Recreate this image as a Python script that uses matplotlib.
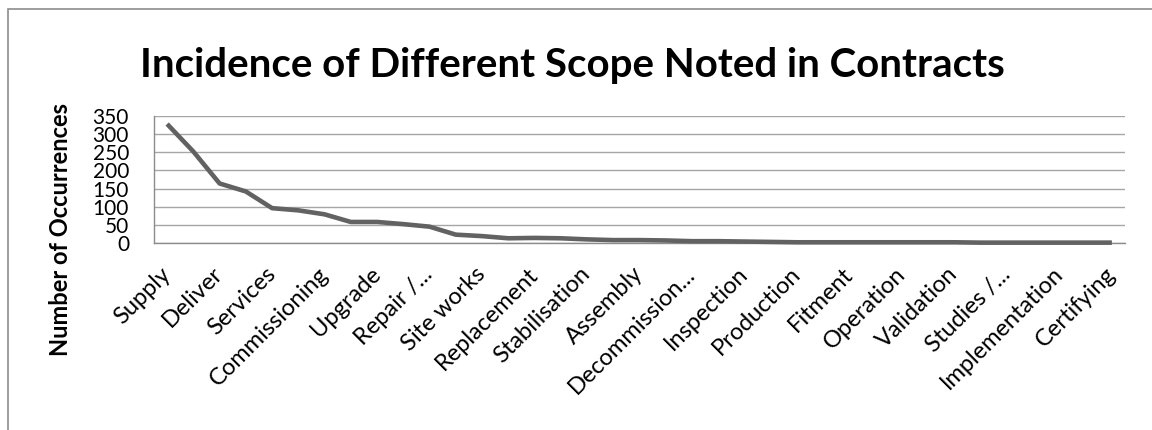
import matplotlib
matplotlib.use("Agg")
import matplotlib.pyplot as plt
from matplotlib.patches import Rectangle

plt.rcParams["font.family"] = ["Lato", "DejaVu Sans"]

# Category labels (every second category is labelled on the axis)
categories = [
    "Supply", "Deliver", "Services", "Commissioning", "Upgrade", "Repair /...",
    "Site works", "Replacement", "Stabilisation", "Assembly", "Decommission...",
    "Inspection", "Production", "Fitment", "Operation", "Validation",
    "Studies /...", "Implementation", "Certifying",
]

# Number of occurrences for every scope category, in descending order
occurrences = [
    328, 252, 164, 142, 96, 90, 79, 58, 58, 52, 45, 23, 19, 13, 14, 13, 10, 8,
    8, 7, 5, 5, 4, 3, 2, 2, 2, 2, 2, 2, 2, 1, 1, 1, 1, 1, 1,
]

y_ticks = [0, 50, 100, 150, 200, 250, 300, 350]

title = "Incidence of Different Scope Noted in Contracts"
y_label = "Number of Occurrences"

W, H = 1152, 430
fig = plt.figure(figsize=(W / 100, H / 100), dpi=100)


def px_box(left, top, right, bottom):
    return [left / W, 1 - bottom / H, (right - left) / W, (bottom - top) / H]


# Outer chart border
fig.add_artist(Rectangle((8 / W, -0.2), 1.5, 1.2 - 9 / H, transform=fig.transFigure,
                         fill=False, edgecolor="#8c8c8c", linewidth=1.2))

ax = fig.add_axes(px_box(154, 116, 1125, 243))

x = list(range(len(occurrences)))
ax.plot(x, occurrences, color="#626262", linewidth=3.3, solid_joinstyle="round",
        solid_capstyle="butt", clip_on=False, zorder=3)

ax.set_xlim(-0.5, len(occurrences) - 0.5)
ax.set_ylim(0, 350)
ax.set_yticks(y_ticks)
ax.set_yticklabels([str(v) for v in y_ticks])
ax.set_xticks(x[::2])
ax.set_xticklabels(categories, rotation=45, ha="right", va="center",
                   rotation_mode="anchor")
ax.tick_params(axis="x", length=0, pad=20, labelsize=17, colors="black")
ax.tick_params(axis="y", length=0, pad=18, labelsize=15, colors="black")

ax.grid(axis="y", color="#a6a6a6", linewidth=1.0)
ax.set_axisbelow(True)
for side in ("top", "right"):
    ax.spines[side].set_visible(False)
for side in ("left", "bottom"):
    ax.spines[side].set_color("#8c8c8c")
    ax.spines[side].set_linewidth(1.0)

fig.text(572 / W, 1 - 77 / H, title, ha="center", va="baseline",
         fontsize=29, fontweight="bold")
fig.text(60 / W, 1 - 356 / H, y_label, ha="center", va="bottom", rotation=90,
         fontsize=17, fontweight="bold")

fig.savefig("out.png", dpi=100)
